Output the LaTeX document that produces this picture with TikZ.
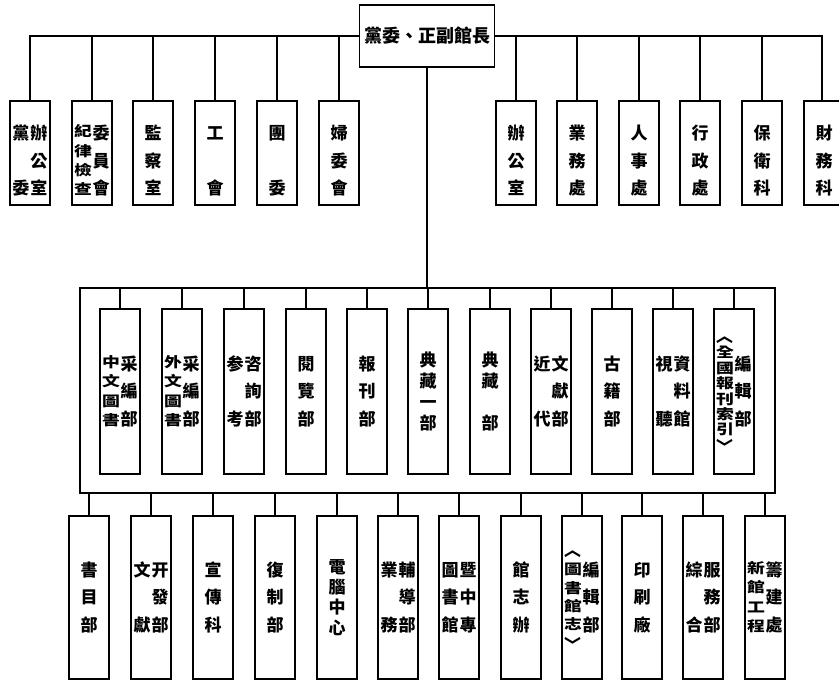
\documentclass[tikz,border=0pt]{standalone}
\usepackage{fontspec}
\usepackage{graphicx}
\newfontfamily\cjk{Noto Sans CJK TC}
\newcommand{\ch}[1]{\hbox to 18pt{\hss\rule[-2pt]{0pt}{17pt}#1\hss}}
\newcommand{\sq}[1]{\hbox to 18pt{\hss\rule[-2pt]{0pt}{14pt}\scalebox{1.05}[0.82]{#1}\hss}}
\newcommand{\opn}{\hbox to 18pt{\hss\rule[-2pt]{0pt}{12pt}\rotatebox[origin=c]{-90}{〈}\hss}}
\newcommand{\cls}{\hbox to 18pt{\hss\rule[-2pt]{0pt}{12pt}\rotatebox[origin=c]{-90}{〉}\hss}}
\newcommand{\col}[2][70pt]{$\vcenter{\vbox to #1{\offinterlineskip#2}}$}
\tikzset{
  ln/.style={line width=1.6pt},
  cjkfont/.style={font=\cjk\bfseries\fontsize{17pt}{17pt}\selectfont},
  boxbase/.style={draw, line width=1.6pt, minimum width=40pt, inner sep=0pt, anchor=north, cjkfont},
  topbox/.style={boxbase, minimum height=104pt},
  midbox/.style={boxbase, minimum height=165pt},
  botbox/.style={boxbase, minimum height=163pt},
  vt/.style={inner sep=0pt, cjkfont},
}
\begin{document}
\begin{tikzpicture}[x=1pt,y=-1pt]
\useasboundingbox (0,0) rectangle (839,680);
% head
\node[draw, ln, minimum width=135pt, minimum height=62pt, inner sep=0pt,
      font=\cjk\bfseries\fontsize{18pt}{18pt}\selectfont] (boss) at (427,36) {黨委、正副館長};
% top row boxes
\node[topbox] (L1) at (30,100) {};
\node[topbox] (L2) at (92,100) {};
\node[topbox] (L3) at (153,100) {};
\node[topbox] (L4) at (215,100) {};
\node[topbox] (L5) at (277,100) {};
\node[topbox] (L6) at (339,100) {};
\node[topbox] (R1) at (516,100) {};
\node[topbox] (R2) at (577,100) {};
\node[topbox] (R3) at (639,100) {};
\node[topbox] (R4) at (700,100) {};
\node[topbox] (R5) at (762,100) {};
\node[topbox, minimum width=36pt] (R6) at (822,100) {};
\node[vt] (L1t) at ([yshift=-8pt]L1.center) {\col{\ch{黨}\vfil\ch{委}}\col{\ch{辦}\vfil\ch{公}\vfil\ch{室}}};
\node[vt] (L2t) at ([yshift=-8pt]L2.center) {\col{\sq{紀}\vfil\sq{律}\vfil\sq{檢}\vfil\sq{查}}\col{\ch{委}\vfil\ch{員}\vfil\ch{會}}};
\node[vt] (L3t) at ([yshift=-8pt]L3.center) {\col{\ch{監}\vfil\ch{察}\vfil\ch{室}}};
\node[vt] (L4t) at ([yshift=-8pt]L4.center) {\col{\ch{工}\vfil\ch{會}}};
\node[vt] (L5t) at ([yshift=-8pt]L5.center) {\col{\ch{團}\vfil\ch{委}}};
\node[vt] (L6t) at ([yshift=-8pt]L6.center) {\col{\ch{婦}\vfil\ch{委}\vfil\ch{會}}};
\node[vt] (R1t) at ([yshift=-8pt]R1.center) {\col{\ch{辦}\vfil\ch{公}\vfil\ch{室}}};
\node[vt] (R2t) at ([yshift=-8pt]R2.center) {\col{\ch{業}\vfil\ch{務}\vfil\ch{處}}};
\node[vt] (R3t) at ([yshift=-8pt]R3.center) {\col{\ch{人}\vfil\ch{事}\vfil\ch{處}}};
\node[vt] (R4t) at ([yshift=-8pt]R4.center) {\col{\ch{行}\vfil\ch{政}\vfil\ch{處}}};
\node[vt] (R5t) at ([yshift=-8pt]R5.center) {\col{\ch{保}\vfil\ch{衛}\vfil\ch{科}}};
\node[vt] (R6t) at ([yshift=-8pt,xshift=2pt]R6.center) {\col{\ch{財}\vfil\ch{務}\vfil\ch{科}}};
% container
\node[draw, ln, minimum width=695pt, minimum height=205pt, inner sep=0pt] (cont) at (427.5,390.5) {};
% middle row
\node[midbox] (M1) at (120,308) {\col{\sq{中}\vfil\sq{文}\vfil\sq{圖}\vfil\sq{書}}\col{\ch{采}\vfil\ch{編}\vfil\ch{部}}};
\node[midbox] (M2) at (182,308) {\col{\sq{外}\vfil\sq{文}\vfil\sq{圖}\vfil\sq{書}}\col{\ch{采}\vfil\ch{編}\vfil\ch{部}}};
\node[midbox] (M3) at (244,308) {\col{\ch{参}\vfil\ch{考}}\col{\ch{咨}\vfil\ch{詢}\vfil\ch{部}}};
\node[midbox] (M4) at (306,308) {\col{\ch{閱}\vfil\ch{覽}\vfil\ch{部}}};
\node[midbox] (M5) at (367,308) {\col{\ch{報}\vfil\ch{刊}\vfil\ch{部}}};
\node[midbox] (M6) at (428,308) {\col[78pt]{\ch{典}\vfil\ch{藏}\vfil\ch{一}\vfil\ch{部}}};
\node[midbox] (M7) at (490,308) {\col[78pt]{\ch{典}\vfil\ch{藏}\vfil\ch{}\vfil\ch{部}}};
\node[midbox] (M8) at (551,308) {\col{\ch{近}\vfil\ch{代}}\col{\ch{文}\vfil\ch{獻}\vfil\ch{部}}};
\node[midbox] (M9) at (612,308) {\col{\ch{古}\vfil\ch{籍}\vfil\ch{部}}};
\node[midbox] (M10) at (673,308) {\col{\ch{視}\vfil\ch{聽}}\col{\ch{資}\vfil\ch{料}\vfil\ch{館}}};
\node[midbox] (M11) at (734,308) {\col[126pt]{\opn\vfil\sq{全}\vfil\sq{國}\vfil\sq{報}\vfil\sq{刊}\vfil\sq{索}\vfil\sq{引}\vfil\cls}\col{\ch{編}\vfil\ch{輯}\vfil\ch{部}}};
% bottom row
\node[botbox] (B1) at (89,515) {\col{\ch{書}\vfil\ch{目}\vfil\ch{部}}};
\node[botbox] (B2) at (151,515) {\col{\ch{文}\vfil\ch{獻}}\col{\ch{开}\vfil\ch{發}\vfil\ch{部}}};
\node[botbox] (B3) at (213,515) {\col{\ch{宣}\vfil\ch{傳}\vfil\ch{科}}};
\node[botbox] (B4) at (275,515) {\col{\ch{復}\vfil\ch{制}\vfil\ch{部}}};
\node[botbox] (B5) at (337,515) {\col[76pt]{\ch{電}\vfil\ch{腦}\vfil\ch{中}\vfil\ch{心}}};
\node[botbox] (B6) at (398,515) {\col{\ch{業}\vfil\ch{務}}\col{\ch{輔}\vfil\ch{導}\vfil\ch{部}}};
\node[botbox] (B7) at (459,515) {\col{\ch{圖}\vfil\ch{書}\vfil\ch{館}}\col{\ch{暨}\vfil\ch{中}\vfil\ch{專}}};
\node[botbox] (B8) at (521,515) {\col{\ch{館}\vfil\ch{志}\vfil\ch{辦}}};
\node[botbox] (B9) at (582,515) {\col[110pt]{\opn\vfil\sq{圖}\vfil\sq{書}\vfil\sq{館}\vfil\sq{志}\vfil\cls}\col{\ch{編}\vfil\ch{輯}\vfil\ch{部}}};
\node[botbox] (B10) at (642,515) {\col{\ch{印}\vfil\ch{刷}\vfil\ch{廠}}};
\node[botbox] (B11) at (703,515) {\col{\ch{綜}\vfil\ch{合}}\col{\ch{服}\vfil\ch{務}\vfil\ch{部}}};
\node[botbox] (B12) at (765,515) {\col{\sq{新}\vfil\sq{館}\vfil\sq{工}\vfil\sq{程}}\col{\ch{籌}\vfil\ch{建}\vfil\ch{處}}};
% connectors: top bus
\draw[ln] (L1.north) |- (boss.west);
\foreach \n in {L2,L3,L4,L5,L6} \draw[ln] (\n.north) -- (\n.north |- boss.west);
\draw[ln] (R6.north) |- (boss.east);
\foreach \n in {R1,R2,R3,R4,R5} \draw[ln] (\n.north) -- (\n.north |- boss.east);
\draw[ln] (boss.south) -- (boss.south |- cont.north);
\foreach \n in {M1,M2,M3,M4,M5,M6,M7,M8,M9,M10,M11} \draw[ln] (\n.north) -- (\n.north |- cont.north);
\foreach \n in {B1,B2,B3,B4,B5,B6,B7,B8,B9,B10,B11,B12} \draw[ln] (\n.north) -- (\n.north |- cont.south);
\end{tikzpicture}
\end{document}
